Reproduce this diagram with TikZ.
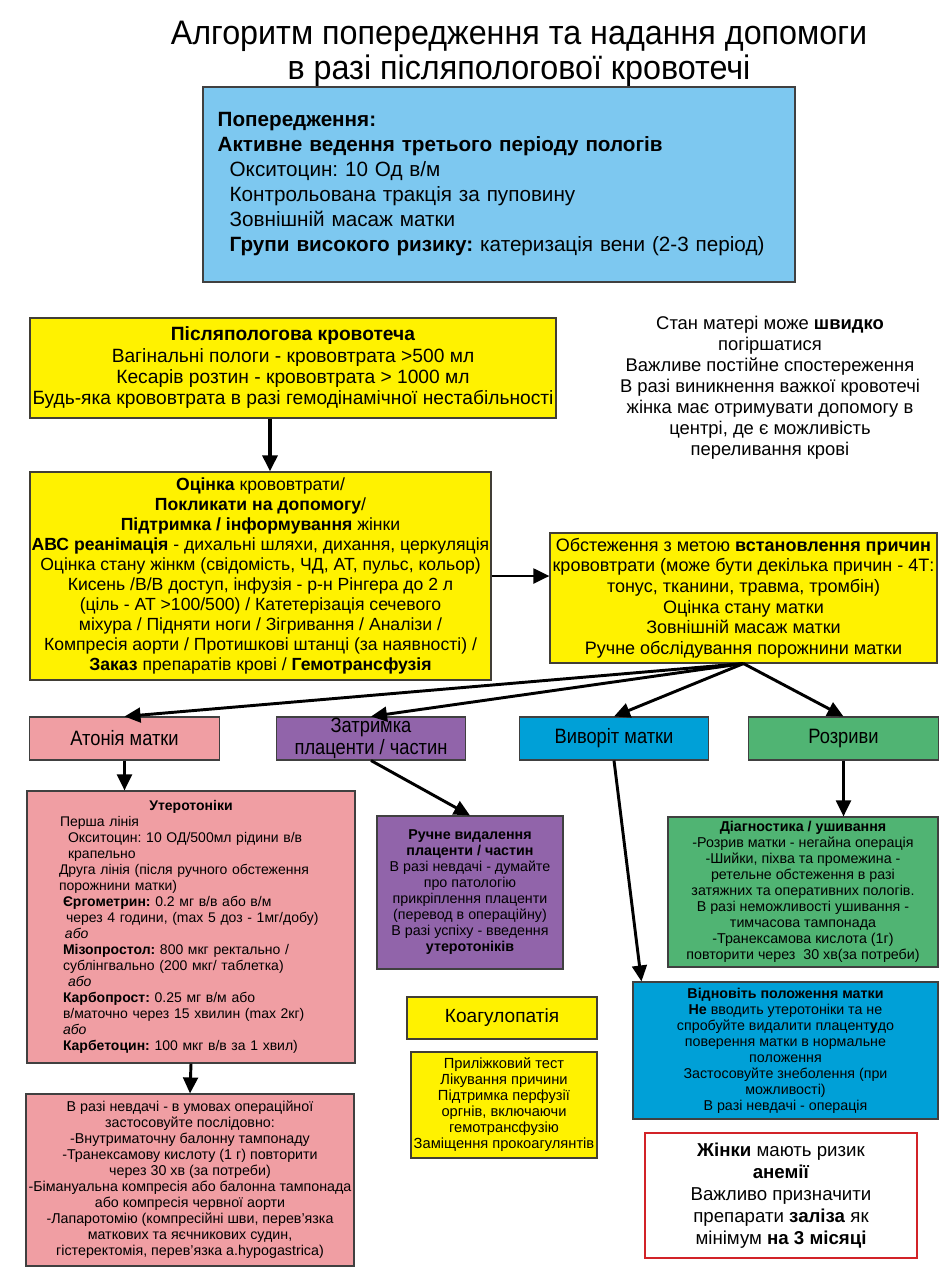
\documentclass[tikz,border=0pt]{standalone}
\usepackage{fontspec}
\setmainfont{Liberation Sans}
\newfontfamily\narrowfont[FakeStretch=0.88]{Liberation Sans}
\newfontfamily\titlefont[FakeStretch=0.95]{Liberation Sans}
\usetikzlibrary{arrows.meta,positioning,calc}
\newcommand\fsz[2]{\fontsize{#1}{#2}\selectfont}
\definecolor{prevblue}{RGB}{125,200,240}
\definecolor{flowyellow}{RGB}{255,242,0}
\definecolor{atpink}{RGB}{240,158,163}
\definecolor{retpurple}{RGB}{145,100,170}
\definecolor{invblue}{RGB}{0,160,215}
\definecolor{teargreen}{RGB}{80,180,115}
\definecolor{warnred}{RGB}{210,35,40}
\frenchspacing

\begin{document}
\begin{tikzpicture}[x=0.75pt, y=-0.75pt,
    box/.style={draw=black!75, line width=0.8pt, inner sep=0pt, align=center},
    ybox/.style={box, fill=flowyellow, draw=black!65!yellow!40!black},
    cat/.style={box, font=\narrowfont\fsz{15.6pt}{16.8pt}, minimum width=142pt, minimum height=32.25pt},
    small/.style={font=\fsz{10.7pt}{12pt}},
    arr/.style={-{Triangle[length=12pt,width=11pt]}, line width=2.2pt, black}
]
\useasboundingbox (0,0) rectangle (950,1286);

\node[align=center, font=\titlefont\fsz{25.5pt}{26pt}] (title) at (519,54)
  {Алгоритм попередження та надання допомоги\\в разі післяпологової кровотечі};

\node[box, fill=prevblue, minimum width=444pt, minimum height=146.25pt,
      text width=422pt, align=left, font=\fsz{15.5pt}{18.75pt}] (prev) at (499,184.5)
  {\textbf{Попередження:}\\
   \textbf{Активне ведення третього періоду пологів}\\
   \hspace*{9pt}Окситоцин: 10 Од в/м\\
   \hspace*{9pt}Контрольована тракція за пуповину\\
   \hspace*{9pt}Зовнішній масаж матки\\
   \hspace*{9pt}\textbf{Групи високого ризику:} катеризація вени (2-3 період)};

\node[ybox, minimum width=394.5pt, minimum height=75pt, font=\fsz{14.4pt}{16pt}] (pph) at (293,368)
  {\textbf{Післяпологова кровотеча}\\
   Вагінальні пологи - крововтрата >500 мл\\
   Кесарів розтин - крововтрата > 1000 мл\\
   Будь-яка крововтрата в разі гемодінамічної нестабільності};

\node[align=center, font=\fsz{13.8pt}{15.8pt}] (note) at (770,388)
  {Стан матері може \textbf{швидко}\\
   погіршатися\\
   Важливе постійне спостереження\\
   В разі виникнення важкої кровотечі\\
   жінка має отримувати допомогу в\\
   центрі, де є можливість\\
   переливання крові};

\node[ybox, minimum width=345.75pt, minimum height=156pt, font=\fsz{13.2pt}{15pt}] (assess) at (260.5,576)
  {\textbf{Оцінка} крововтрати/\\
   \textbf{Покликати на допомогу}/\\
   \textbf{Підтримка / інформування} жінки\\
   \textbf{АВС реанімація} - дихальні шляхи, дихання, церкуляція\\
   Оцінка стану жінкм (свідомість, ЧД, АТ, пульс, кольор)\\
   Кисень /В/В доступ, інфузія - р-н Рінгера до 2 л\\
   (ціль - АТ >100/500) / Катетерізація сечевого\\
   міхура / Підняти ноги / Зігривання / Аналізи /\\
   Компресія аорти / Протишкові штанці (за наявності) /\\
   \textbf{Заказ} препаратів крові / \textbf{Гемотрансфузія}};

\node[ybox, minimum width=290.25pt, minimum height=97.5pt, font=\fsz{13.5pt}{15.4pt}] (cause) at (743.5,598)
  {Обстеження з метою \textbf{встановлення причин}\\
   крововтрати (може бути декілька причин - 4Т:\\
   тонус, тканини, травма, тромбін)\\
   Оцінка стану матки\\
   Зовнішній масаж матки\\
   Ручне обслідування порожнини матки};

\node[cat, fill=atpink] (atony) at (124.5,738.5) {Атонія матки};
\node[cat, fill=retpurple] (retain) at (371,738.5) {Затримка\\плаценти / частин};
\node[cat, fill=invblue] (invers) at (614,738.5) {Виворіт матки};
\node[cat, fill=teargreen] (tears) at (843.5,738.5) {Розриви};

\node[box, fill=atpink, small, font=\fsz{10.5pt}{12pt}, minimum width=246pt, minimum height=204pt,
      text width=198pt, align=left] (utero) at (191,927)
  {\makebox[\linewidth]{\textbf{Утеротоніки}}\\
   \hspace*{0.8pt}Перша лінія\\
   \hspace*{6.8pt}Окситоцин: 10 ОД/500мл рідини в/в\\
   \hspace*{6.8pt}крапельно\\
   Друга лінія (після ручного обстеження\\
   порожнини матки)\\
   \hspace*{3pt}\textbf{Єргометрин:} 0.2 мг в/в або в/м\\
   \hspace*{5.3pt}через 4 години, (max 5 доз - 1мг/добу)\\
   \hspace*{4.5pt}\textit{або}\\
   \hspace*{3pt}\textbf{Мізопростол:} 800 мкг ректально /\\
   \hspace*{3pt}сублінгвально (200 мкг/ таблетка)\\
   \hspace*{6.8pt}\textit{або}\\
   \hspace*{3pt}\textbf{Карбопрост:} 0.25 мг в/м або\\
   \hspace*{3pt}в/маточно через 15 хвилин (max 2кг)\\
   \hspace*{3pt}\textit{або}\\
   \hspace*{3pt}\textbf{Карбетоцин:} 100 мкг в/в за 1 хвил)};

\node[box, fill=atpink, small, minimum width=246pt, minimum height=129pt] (fail) at (190,1180)
  {В разі невдачі - в умовах операційної\\
   застосовуйте послідовно:\\
   -Внутриматочну балонну тампонаду\\
   -Транексамову кислоту (1 г) повторити\\
   через 30 хв (за потреби)\\
   -Бімануальна компресія або балонна тампонада\\
   або компресія червної аорти\\
   -Лапаротомію (компресійні шви, перев'язка\\
   маткових та яєчникових судин,\\
   гістеректомія, перев'язка a.hypogastrica)};

\node[box, fill=retpurple, small, minimum width=139.5pt, minimum height=114.75pt] (manual) at (470,892.5)
  {\textbf{Ручне видалення}\\
   \textbf{плаценти / частин}\\
   В разі невдачі - думайте\\
   про патологію\\
   прикріплення плаценти\\
   (перевод в операційну)\\
   В разі успіху - введення\\
   \textbf{утеротоніків}};

\node[box, fill=teargreen, small, minimum width=202.5pt, minimum height=112.5pt] (suture) at (803,892)
  {\textbf{Діагностика / ушивання}\\
   -Розрив матки - негайна операція\\
   -Шийки, піхва та промежина -\\
   ретельне обстеження в разі\\
   затяжних та оперативних пологів.\\
   В разі неможливості ушивання -\\
   тимчасова тампонада\\
   -Транексамова кислота (1г)\\
   повторити через\ \ 30 хв(за потреби)};

\node[box, fill=invblue, small, minimum width=228.75pt, minimum height=102.75pt] (repos) at (785.5,1050.5)
  {\textbf{Відновіть положення матки}\\
   \textbf{Не} вводить утеротоніки та не\\
   спробуйте видалити плацент\textbf{у}до\\
   поверення матки в нормальне\\
   положення\\
   Застосовуйте знеболення (при\\
   можливості)\\
   В разі невдачі - операція};

\node[ybox, minimum width=142.5pt, minimum height=31.5pt, font=\fsz{14.3pt}{16pt}] (coag) at (502,1018) {Коагулопатія};

\node[ybox, small, font=\fsz{11pt}{12pt}, minimum width=139.5pt, minimum height=79.5pt] (coagtx) at (504,1105)
  {Приліжковий тест\\
   Лікування причини\\
   Підтримка перфузії\\
   оргнів, включаючи\\
   гемотрансфузію\\
   Заміщення прокоагулянтів};

\node[box, draw=warnred, line width=2.2pt, minimum width=204pt, minimum height=93.75pt,
      font=\fsz{14pt}{16.5pt}] (anaemia) at (781,1195.5)
  {\textbf{Жінки} мають ризик\\
   \textbf{анемії}\\
   Важливо призначити\\
   препарати \textbf{заліза} як\\
   мінімум \textbf{на 3 місяці}};

\draw[arr, line width=2.8pt] (270,0 |- pph.south) -- (270,0 |- assess.north);
\draw[arr] (assess.east) -- (assess.east -| cause.west);
\draw[arr] (cause.south) -- (atony.north);
\draw[arr] (cause.south) -- (retain.north);
\draw[arr] (cause.south) -- (invers.north);
\draw[arr] (cause.south) -- (tears.north);
\draw[arr] (atony.south) -- (atony.south |- utero.north);
\draw[arr] (utero.south) -- (fail.north);
\draw[arr] (retain.south) -- (manual.north);
\draw[arr] (invers.south) -- ($(repos.north west)+(9,0)$);
\draw[arr] (tears.south) -- (tears.south |- suture.north);
\end{tikzpicture}
\end{document}
